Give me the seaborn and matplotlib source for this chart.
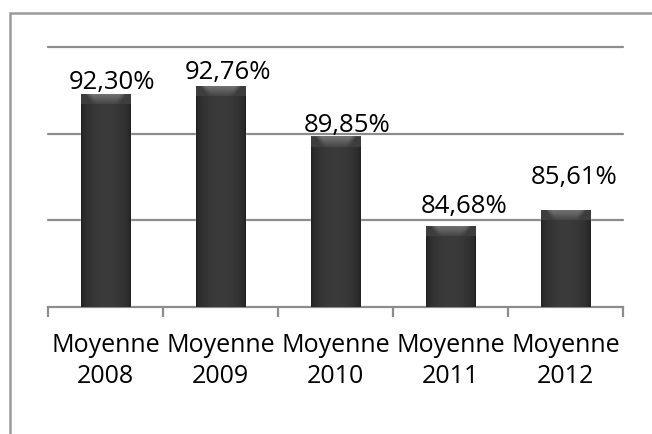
import numpy as np
import pandas as pd
import seaborn as sns
import matplotlib.pyplot as plt
from matplotlib.patches import Rectangle

# données
categories = ["Moyenne\n2008", "Moyenne\n2009", "Moyenne\n2010", "Moyenne\n2011", "Moyenne\n2012"]
values = [92.30, 92.76, 89.85, 84.68, 85.61]
labels = ["92,30%", "92,76%", "89,85%", "84,68%", "85,61%"]

# décalage des étiquettes (pixels), comme dans l'original
label_dx = [7, 8, 12, 14, 9]
label_dy = [5, 7, 4, 13, 26]

GRID = "#8c8c8c"


def bar_image(w_px, h_px):
    t = np.linspace(0, 1, max(w_px, 2))
    prof = 0.13 + 0.10 * np.sin(np.pi * t) ** 0.5
    img = np.tile(prof, (max(h_px, 2), 1))
    # biseau gris en haut de la barre
    nb = 11
    for r in range(min(nb, h_px)):
        half = 0.42 - r * 0.014
        k = np.clip((half - np.abs(t - 0.5)) / 0.12, 0, 1) ** 0.7
        img[r] = np.maximum(img[r], 0.24 + k * (0.22 - r * 0.018))
    img[:1] = np.maximum(img[:1], 0.30)
    img = np.clip(img, 0, 1)
    return np.dstack([img, img, img])


def main():
    df = pd.DataFrame({"cat": categories, "val": values})

    sns.set_theme(style="white")
    plt.rcParams["font.family"] = ["Open Sans", "DejaVu Sans"]

    fig = plt.figure(figsize=(6.52, 4.34), dpi=100)
    ax = fig.add_axes([48 / 652, 1 - 307 / 434, 575 / 652, 260 / 434])

    sns.barplot(data=df, x="cat", y="val", color="#2e2e2e", width=0.43,
                saturation=1, ax=ax, zorder=3)

    ax.set_ylim(80, 95)
    ax.set_xlim(-0.5, 4.5)
    ax.set_yticks([85, 90, 95])
    ax.yaxis.grid(True, color=GRID, linewidth=1.6)
    for gl in ax.get_ygridlines():
        gl.set_clip_on(False)
    ax.set_axisbelow(True)
    ax.set_yticklabels([])
    ax.tick_params(axis="y", length=0)
    ax.set_xlabel("")
    ax.set_ylabel("")

    for s in ["top", "right", "left"]:
        ax.spines[s].set_visible(False)
    ax.spines["bottom"].set_color(GRID)
    ax.spines["bottom"].set_linewidth(1.6)

    ax.set_xticks(np.arange(-0.5, 5, 1), minor=True)
    ax.tick_params(axis="x", which="minor", bottom=True, length=7, width=1.6,
                   color=GRID, direction="out")
    ax.tick_params(axis="x", which="major", length=0, pad=19, labelsize=18,
                   labelcolor="black")
    for t in ax.get_xticklabels():
        t.set_linespacing(1.3)

    # dégradé sur chaque barre
    px_per_unit = 260 / 15
    for bar in ax.patches:
        x0 = bar.get_x()
        w = bar.get_width()
        top = bar.get_height()
        h_px = int((top - 80) * px_per_unit)
        img = bar_image(50, h_px)
        im = ax.imshow(img, extent=[x0, x0 + w, 80, top], aspect="auto",
                       zorder=4, interpolation="bilinear")
        im.set_clip_path(bar)
    ax.set_xlim(-0.5, 4.5)
    ax.set_ylim(80, 95)

    for i, (v, lab) in enumerate(zip(values, labels)):
        ax.annotate(lab, xy=(i, v), xytext=(label_dx[i], label_dy[i]),
                    textcoords="offset pixels", ha="center", va="baseline",
                    fontsize=18.5, color="black", zorder=5)

    fig.patches.append(Rectangle((10 / 652, -0.2), 1.2, 1.2 - 13 / 434,
                                 transform=fig.transFigure, fill=False,
                                 edgecolor="#9a9a9a", linewidth=1.8))

    fig.savefig("out.png", dpi=100)


if __name__ == "__main__":
    main()
